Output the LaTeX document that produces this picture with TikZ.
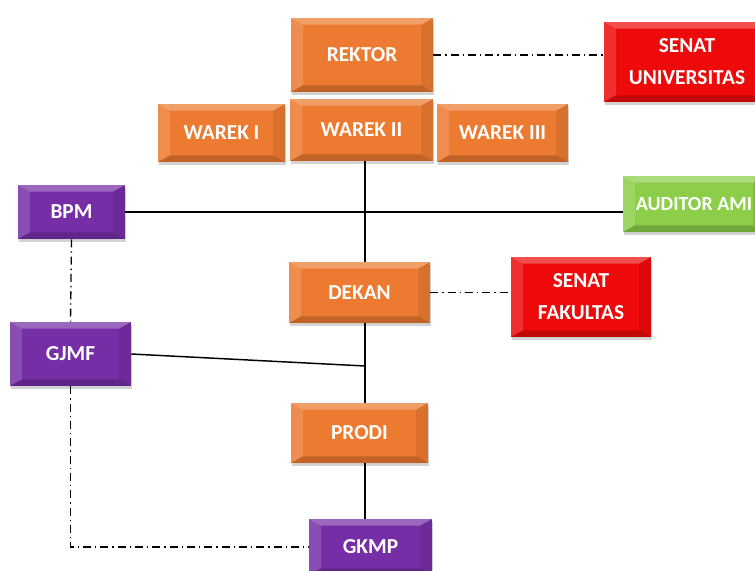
\documentclass[tikz,border=0pt]{standalone}
\usepackage{fontspec}
\setmainfont{Carlito}
\usepackage{tikz}
\usetikzlibrary{shadows}

\definecolor{orangebox}{RGB}{236,122,48}
\definecolor{redbox}{RGB}{238,10,10}
\definecolor{purplebox}{RGB}{118,46,166}
\definecolor{greenbox}{RGB}{140,206,72}

\tikzset{
  bevel/.style={path picture={
    \fill[white,opacity=0.28] (path picture bounding box.north west) -- (path picture bounding box.north east) -- ([xshift=-9pt,yshift=-5pt]path picture bounding box.north east) -- ([xshift=9pt,yshift=-5pt]path picture bounding box.north west) -- cycle;
    \fill[white,opacity=0.15] (path picture bounding box.north west) -- ([xshift=9pt,yshift=-5pt]path picture bounding box.north west) -- ([xshift=9pt,yshift=5pt]path picture bounding box.south west) -- (path picture bounding box.south west) -- cycle;
    \fill[black,opacity=0.18] (path picture bounding box.south west) -- (path picture bounding box.south east) -- ([xshift=-9pt,yshift=5pt]path picture bounding box.south east) -- ([xshift=9pt,yshift=5pt]path picture bounding box.south west) -- cycle;
    \fill[black,opacity=0.08] (path picture bounding box.north east) -- ([xshift=-9pt,yshift=-5pt]path picture bounding box.north east) -- ([xshift=-9pt,yshift=5pt]path picture bounding box.south east) -- (path picture bounding box.south east) -- cycle;
  }},
  unit/.style={rectangle, inner sep=0pt, align=center, text=white,
    font=\bfseries\fontsize{16}{24}\selectfont, bevel,
    drop shadow={opacity=0.35, shadow xshift=1pt, shadow yshift=-2pt}},
  orangeunit/.style={unit, fill=orangebox},
  redunit/.style={unit, fill=redbox},
  purpleunit/.style={unit, fill=purplebox},
  greenunit/.style={unit, fill=greenbox},
  solidlink/.style={draw=black, line width=1.1pt},
  dotlink/.style={draw=black, line width=1pt, dash pattern=on 6pt off 3pt on 1pt off 3pt}
}

\begin{document}
\begin{tikzpicture}[x=0.75pt,y=0.75pt,yscale=-1,xscale=1]
    \useasboundingbox (0,0) rectangle (755,570);

    %Lines behind the boxes
    \coordinate (spine) at (365,0);
    \coordinate (join) at (365,366);

    %Rectangle REKTOR
    \node [orangeunit, minimum width=106.5pt, minimum height=55.5pt] (rektor) at (362,55) {REKTOR};
    %Rectangle SENAT UNIVERSITAS (runs off the right edge)
    \node [redunit, minimum width=124.5pt, minimum height=60pt] (senatu) at (687,62) {SENAT\\UNIVERSITAS};
    %Rectangle WAREK I
    \node [orangeunit, minimum width=95.25pt, minimum height=43.5pt] (warekI) at (221.5,133) {WAREK I};
    %Rectangle WAREK II
    \node [orangeunit, minimum width=107.25pt, minimum height=46.5pt] (warekII) at (361.5,130) {WAREK II};
    %Rectangle WAREK III
    \node [orangeunit, minimum width=98.25pt, minimum height=43.5pt] (warekIII) at (502.5,133) {WAREK III};
    %Rectangle BPM
    \node [purpleunit, minimum width=80.25pt, minimum height=40.5pt] (bpm) at (71.5,212) {BPM};
    %Rectangle AUDITOR AMI (runs off the right edge)
    \node [greenunit, minimum width=106.5pt, minimum height=42pt, font=\bfseries\fontsize{15}{18}\selectfont] (auditor) at (694,204) {AUDITOR AMI};
    %Rectangle DEKAN
    \node [orangeunit, minimum width=105.75pt, minimum height=45.75pt] (dekan) at (359.5,292.5) {DEKAN};
    %Rectangle SENAT FAKULTAS
    \node [redunit, minimum width=105pt, minimum height=60pt] (senatf) at (581,297) {SENAT\\FAKULTAS};
    %Rectangle GJMF
    \node [purpleunit, minimum width=90.75pt, minimum height=48pt] (gjmf) at (70.5,354) {GJMF};
    %Rectangle PRODI
    \node [orangeunit, minimum width=102.75pt, minimum height=45pt] (prodi) at (359.5,433) {PRODI};
    %Rectangle GKMP (runs off the bottom edge)
    \node [purpleunit, minimum width=92.25pt, minimum height=42pt] (gkmp) at (370.5,547) {GKMP};

    %Straight Lines
    \draw [solidlink] (warekII.south -| spine) -- (dekan.north -| spine) ;
    \draw [solidlink] (dekan.south -| spine) -- (prodi.north -| spine) ;
    \draw [solidlink] (prodi.south -| spine) -- (gkmp.north -| spine) ;
    \draw [solidlink] (bpm.east) -- (bpm.east -| auditor.west) ;
    \draw [solidlink] (gjmf.east) -- (join) ;
    %Dash-dot Lines
    \draw [dotlink] (rektor.east) -- (rektor.east -| senatu.west) ;
    \draw [dotlink] (dekan.east) -- (dekan.east -| senatf.west) ;
    \draw [dotlink] (bpm.south) -- (gjmf.north) ;
    \draw [dotlink] (gjmf.south) |- (gkmp.west) ;
\end{tikzpicture}
\end{document}
